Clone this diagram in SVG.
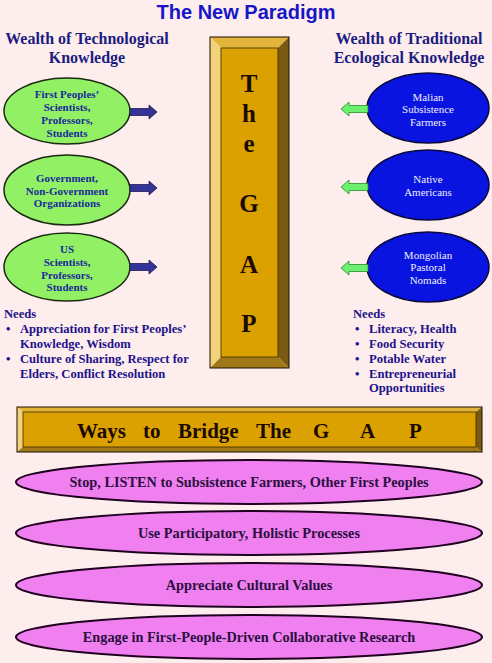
<svg xmlns="http://www.w3.org/2000/svg" width="492" height="663" viewBox="0 0 492 663">
<defs>
<style>
.title{font-family:"Liberation Sans",Arial,sans-serif;font-weight:bold;font-size:20px;fill:#1616C8;text-anchor:middle}
.head{font-family:"Liberation Serif","Times New Roman",serif;font-weight:bold;font-size:16px;fill:#1C1C80;text-anchor:middle}
.gt{font-family:"Liberation Serif","Times New Roman",serif;font-weight:bold;font-size:11px;fill:#1A2A9A;text-anchor:middle}
.bt{font-family:"Liberation Serif","Times New Roman",serif;font-size:11px;fill:#EEEEFF;text-anchor:middle}
.need{font-family:"Liberation Serif","Times New Roman",serif;font-weight:bold;font-size:12.6px;fill:#1C128C}
.gap{font-family:"Liberation Serif","Times New Roman",serif;font-weight:bold;font-size:25px;fill:#1A0A00;text-anchor:middle}
.way{font-family:"Liberation Serif","Times New Roman",serif;font-weight:bold;font-size:21px;fill:#1A0A00}
.pt{font-family:"Liberation Serif","Times New Roman",serif;font-weight:bold;font-size:14.3px;fill:#2B0F3F;text-anchor:middle}
.green{fill:#92F064;stroke:#1A2A10;stroke-width:1.5}
.blue{fill:#0A14E0;stroke:#0A0A40;stroke-width:1.5}
.pink{fill:#F080F0;stroke:#200020;stroke-width:2}
.barr{fill:#343398;stroke:#1A1A50;stroke-width:0.8}
.garr{fill:#6CF070;stroke:#2A8A2A;stroke-width:0.8}
</style>
</defs>
<rect x="0" y="0" width="492" height="663" fill="#FDEDED"/>
<text class="title" x="246" y="19">The New Paradigm</text>
<text class="head" x="87" y="44">Wealth of Technological</text>
<text class="head" x="87" y="63">Knowledge</text>
<text class="head" x="409" y="44">Wealth of Traditional</text>
<text class="head" x="409" y="63">Ecological Knowledge</text>

<g id="gap">
<polygon points="210,37 289,37 278,48 221,48" fill="#E4B43A"/>
<polygon points="210,37 221,48 221,357 210,368" fill="#F2D27A"/>
<polygon points="289,37 289,368 278,357 278,48" fill="#7A5A10"/>
<polygon points="210,368 221,357 278,357 289,368" fill="#A07818"/>
<rect x="221" y="48" width="57" height="309" fill="#DBA100"/>
<rect x="210" y="37" width="79" height="331" fill="none" stroke="#1A1000" stroke-width="1"/>
<rect x="221" y="48" width="57" height="309" fill="none" stroke="#3A2A00" stroke-width="0.8"/>
<text class="gap" x="249" y="92">T</text>
<text class="gap" x="249" y="122">h</text>
<text class="gap" x="249" y="152">e</text>
<text class="gap" x="249" y="212">G</text>
<text class="gap" x="249" y="273">A</text>
<text class="gap" x="249" y="332">P</text>
</g>

<g id="g1">
<ellipse class="green" cx="67" cy="111" rx="63" ry="33"/>
<text class="gt" x="67" y="98">First Peoples’</text>
<text class="gt" x="67" y="111">Scientists,</text>
<text class="gt" x="67" y="124">Professors,</text>
<text class="gt" x="67" y="137">Students</text>
</g>
<g id="g2">
<ellipse class="green" cx="67" cy="190" rx="63" ry="35"/>
<text class="gt" x="67" y="182">Government,</text>
<text class="gt" x="67" y="195">Non-Government</text>
<text class="gt" x="67" y="207">Organizations</text>
</g>
<g id="g3">
<ellipse class="green" cx="67" cy="267" rx="63" ry="34"/>
<text class="gt" x="67" y="253">US</text>
<text class="gt" x="67" y="266">Scientists,</text>
<text class="gt" x="67" y="279">Professors,</text>
<text class="gt" x="67" y="291">Students</text>
</g>

<g id="b1">
<ellipse class="blue" cx="428" cy="108" rx="61" ry="35"/>
<text class="bt" x="428" y="101">Malian</text>
<text class="bt" x="428" y="113">Subsistence</text>
<text class="bt" x="428" y="126">Farmers</text>
</g>
<g id="b2">
<ellipse class="blue" cx="428" cy="185" rx="61" ry="35"/>
<text class="bt" x="428" y="183">Native</text>
<text class="bt" x="428" y="196">Americans</text>
</g>
<g id="b3">
<ellipse class="blue" cx="428" cy="267" rx="61" ry="35"/>
<text class="bt" x="428" y="259">Mongolian</text>
<text class="bt" x="428" y="271">Pastoral</text>
<text class="bt" x="428" y="284">Nomads</text>
</g>

<g id="connectors">
<path class="barr" d="M130,108.5 H149 V105 L157,112 L149,119 V115.5 H130 Z"/>
<path class="barr" d="M130,184.5 H149 V181 L157,188 L149,195 V191.5 H130 Z"/>
<path class="barr" d="M130,263.5 H149 V260 L157,267 L149,274 V270.5 H130 Z"/>
<path class="garr" d="M368,105.5 H349 V102 L341,109 L349,116 V112.5 H368 Z"/>
<path class="garr" d="M368,183.5 H349 V180 L341,187 L349,194 V190.5 H368 Z"/>
<path class="garr" d="M368,264.5 H349 V261 L341,268 L349,275 V271.5 H368 Z"/>
</g>

<g id="needs-left">
<text class="need" x="4" y="318">Needs</text>
<text class="need" x="6" y="333">•</text>
<text class="need" x="20" y="333">Appreciation for First Peoples’</text>
<text class="need" x="20" y="348">Knowledge, Wisdom</text>
<text class="need" x="6" y="363">•</text>
<text class="need" x="20" y="363">Culture of Sharing, Respect for</text>
<text class="need" x="20" y="378">Elders, Conflict Resolution</text>
</g>
<g id="needs-right">
<text class="need" x="353" y="318">Needs</text>
<text class="need" x="355" y="333">•</text>
<text class="need" x="369" y="333">Literacy, Health</text>
<text class="need" x="355" y="348">•</text>
<text class="need" x="369" y="348">Food Security</text>
<text class="need" x="355" y="363">•</text>
<text class="need" x="369" y="363">Potable Water</text>
<text class="need" x="355" y="378">•</text>
<text class="need" x="369" y="378">Entrepreneurial</text>
<text class="need" x="369" y="392">Opportunities</text>
</g>

<g id="ways">
<polygon points="17,407 482,407 476,412 23,412" fill="#E4B43A"/>
<polygon points="17,407 23,412 23,447 17,452" fill="#F2D27A"/>
<polygon points="482,407 482,452 476,447 476,412" fill="#7A5A10"/>
<polygon points="17,452 23,447 476,447 482,452" fill="#A07818"/>
<rect x="23" y="412" width="453" height="35" fill="#DBA100"/>
<rect x="17" y="407" width="465" height="45" fill="none" stroke="#1A1000" stroke-width="1"/>
<rect x="23" y="412" width="453" height="35" fill="none" stroke="#3A2A00" stroke-width="0.8"/>
<text class="way" x="77" y="438">Ways</text>
<text class="way" x="143" y="438">to</text>
<text class="way" x="178" y="438">Bridge</text>
<text class="way" x="256" y="438">The</text>
<text class="way" x="313" y="438">G</text>
<text class="way" x="360" y="438">A</text>
<text class="way" x="409" y="438">P</text>
</g>

<g id="p1">
<ellipse class="pink" cx="249" cy="482" rx="233" ry="22"/>
<text class="pt" x="249" y="487">Stop, LISTEN to Subsistence Farmers, Other First Peoples</text>
</g>
<g id="p2">
<ellipse class="pink" cx="249" cy="533" rx="233" ry="22"/>
<text class="pt" x="249" y="538">Use Participatory, Holistic Processes</text>
</g>
<g id="p3">
<ellipse class="pink" cx="249" cy="585" rx="233" ry="22"/>
<text class="pt" x="249" y="590">Appreciate Cultural Values</text>
</g>
<g id="p4">
<ellipse class="pink" cx="249" cy="637" rx="233" ry="22"/>
<text class="pt" x="249" y="642">Engage in First-People-Driven Collaborative Research</text>
</g>
</svg>
